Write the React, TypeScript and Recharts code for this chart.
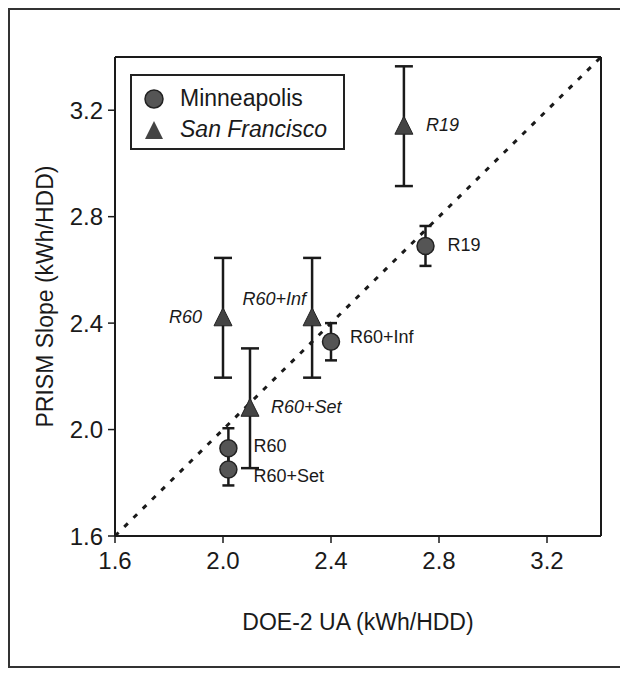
import React from 'react';
import { ScatterChart, Scatter, XAxis, YAxis, ErrorBar, ReferenceLine, Legend } from 'recharts';

// Minneapolis houses
const mplsCases = ['R19', 'R60+Inf', 'R60', 'R60+Set'];
const mplsUA = [2.75, 2.4, 2.02, 2.02];
const mplsSlope = [2.69, 2.33, 1.93, 1.85];
const mplsErr = [0.075, 0.07, 0.075, 0.06];

// San Francisco houses
const sfCases = ['R19', 'R60', 'R60+Inf', 'R60+Set'];
const sfUA = [2.67, 2.0, 2.33, 2.1];
const sfSlope = [3.14, 2.42, 2.42, 2.08];
const sfErr = [0.225, 0.225, 0.225, 0.225];

const axisTicks = [1.6, 2.0, 2.4, 2.8, 3.2];
const axisDomain = [1.6, 3.4];

const FONT = '"Liberation Sans", Arial, Helvetica, sans-serif';
const INK = '#1a1a1a';

// where each case label sits next to its marker
const labelPlace: Record<string, { dx: number; dy: number; anchor: 'start' | 'end' }> = {
  'mpls:R19': { dx: 22, dy: 0, anchor: 'start' },
  'mpls:R60+Inf': { dx: 19, dy: -3, anchor: 'start' },
  'mpls:R60': { dx: 25, dy: -1, anchor: 'start' },
  'mpls:R60+Set': { dx: 25, dy: 8, anchor: 'start' },
  'sf:R19': { dx: 22, dy: 0, anchor: 'start' },
  'sf:R60': { dx: -21, dy: 0, anchor: 'end' },
  'sf:R60+Inf': { dx: -6, dy: -18, anchor: 'end' },
  'sf:R60+Set': { dx: 21, dy: 0, anchor: 'start' },
};

const mplsData = mplsCases.map((c, i) => ({ name: c, x: mplsUA[i], y: mplsSlope[i], err: mplsErr[i] }));
const sfData = sfCases.map((c, i) => ({ name: c, x: sfUA[i], y: sfSlope[i], err: sfErr[i] }));
// 1:1 line across the whole plot
const parityLine = [
  { x: axisDomain[0], y: axisDomain[0] },
  { x: axisDomain[1], y: axisDomain[1] },
];

const CircleMark = (props: any) => {
  const { cx, cy, payload } = props;
  const p = labelPlace['mpls:' + payload.name];
  return (
    <g>
      <circle cx={cx} cy={cy} r={8.5} fill="#555" stroke="#222" strokeWidth={1.5} />
      <text x={cx + p.dx} y={cy + p.dy} textAnchor={p.anchor} dominantBaseline="middle"
        fontSize={18} fontFamily={FONT} fill={INK}>{payload.name}</text>
    </g>
  );
};

const TriangleMark = (props: any) => {
  const { cx, cy, payload } = props;
  const p = labelPlace['sf:' + payload.name];
  return (
    <g>
      <polygon points={`${cx},${cy - 10} ${cx - 9},${cy + 8} ${cx + 9},${cy + 8}`} fill="#444" stroke="#222" strokeWidth={1} />
      <text x={cx + p.dx} y={cy + p.dy} textAnchor={p.anchor} dominantBaseline="middle"
        fontSize={18} fontStyle="italic" fontFamily={FONT} fill={INK}>{payload.name}</text>
    </g>
  );
};

const LegendBox = () => (
  <div style={{ border: '2px solid #222', width: 215, height: 76, boxSizing: 'border-box', background: '#fff',
    fontFamily: FONT, fontSize: 23, color: INK, padding: '7px 0 0 12px' }}>
    <div style={{ display: 'flex', alignItems: 'center', height: 31 }}>
      <svg width={36} height={24}><circle cx={10} cy={12} r={9} fill="#555" stroke="#222" strokeWidth={1.5} /></svg>
      <span>Minneapolis</span>
    </div>
    <div style={{ display: 'flex', alignItems: 'center', height: 31 }}>
      <svg width={36} height={24}><polygon points="10,3 1,21 19,21" fill="#444" /></svg>
      <span style={{ fontStyle: 'italic' }}>San Francisco</span>
    </div>
  </div>
);

const tickStyle = { fontSize: 24, fontFamily: FONT, fill: INK };

export default function App() {
  return (
    <div style={{ width: 616, height: 660, border: '2px solid #333', boxSizing: 'border-box', position: 'relative', background: '#fff' }}>
      <ScatterChart width={612} height={656} margin={{ top: 47, right: 21, left: 0, bottom: 0 }}>
        <XAxis type="number" dataKey="x" domain={axisDomain} ticks={axisTicks} allowDataOverflow
          tickFormatter={(v: number) => v.toFixed(1)} tick={tickStyle} tickSize={7} tickMargin={9}
          axisLine={{ stroke: INK, strokeWidth: 2 }} tickLine={{ stroke: INK, strokeWidth: 1.5 }} height={130}
          label={{ value: 'DOE-2 UA (kWh/HDD)', position: 'insideBottom', offset: 36, style: { fontSize: 23, fontFamily: FONT, fill: INK } }} />
        <YAxis type="number" dataKey="y" domain={axisDomain} ticks={axisTicks} allowDataOverflow
          tickFormatter={(v: number) => v.toFixed(1)} tick={tickStyle} tickSize={7} tickMargin={5}
          axisLine={{ stroke: INK, strokeWidth: 2 }} tickLine={{ stroke: INK, strokeWidth: 1.5 }} width={105}
          label={{ value: 'PRISM Slope (kWh/HDD)', angle: -90, position: 'insideLeft', offset: 35,
            style: { textAnchor: 'middle', fontSize: 23, fontFamily: FONT, fill: INK } }} />
        <ReferenceLine y={3.4} stroke={INK} strokeWidth={2} />
        <ReferenceLine x={3.4} stroke={INK} strokeWidth={2} />
        <ReferenceLine segment={parityLine} stroke={INK} strokeWidth={3} strokeDasharray="5 8" />
        <Scatter name="Minneapolis" data={mplsData} shape={CircleMark} isAnimationActive={false}>
          <ErrorBar dataKey="err" direction="y" width={6} stroke={INK} strokeWidth={2.5} />
        </Scatter>
        <Scatter name="San Francisco" data={sfData} shape={TriangleMark} isAnimationActive={false}>
          <ErrorBar dataKey="err" direction="y" width={9} stroke={INK} strokeWidth={2.5} />
        </Scatter>
        <Legend layout="vertical" align="center" verticalAlign="middle" content={LegendBox}
          wrapperStyle={{ left: 120, top: 64, width: 215, height: 76 }} />
      </ScatterChart>
    </div>
  );
}
